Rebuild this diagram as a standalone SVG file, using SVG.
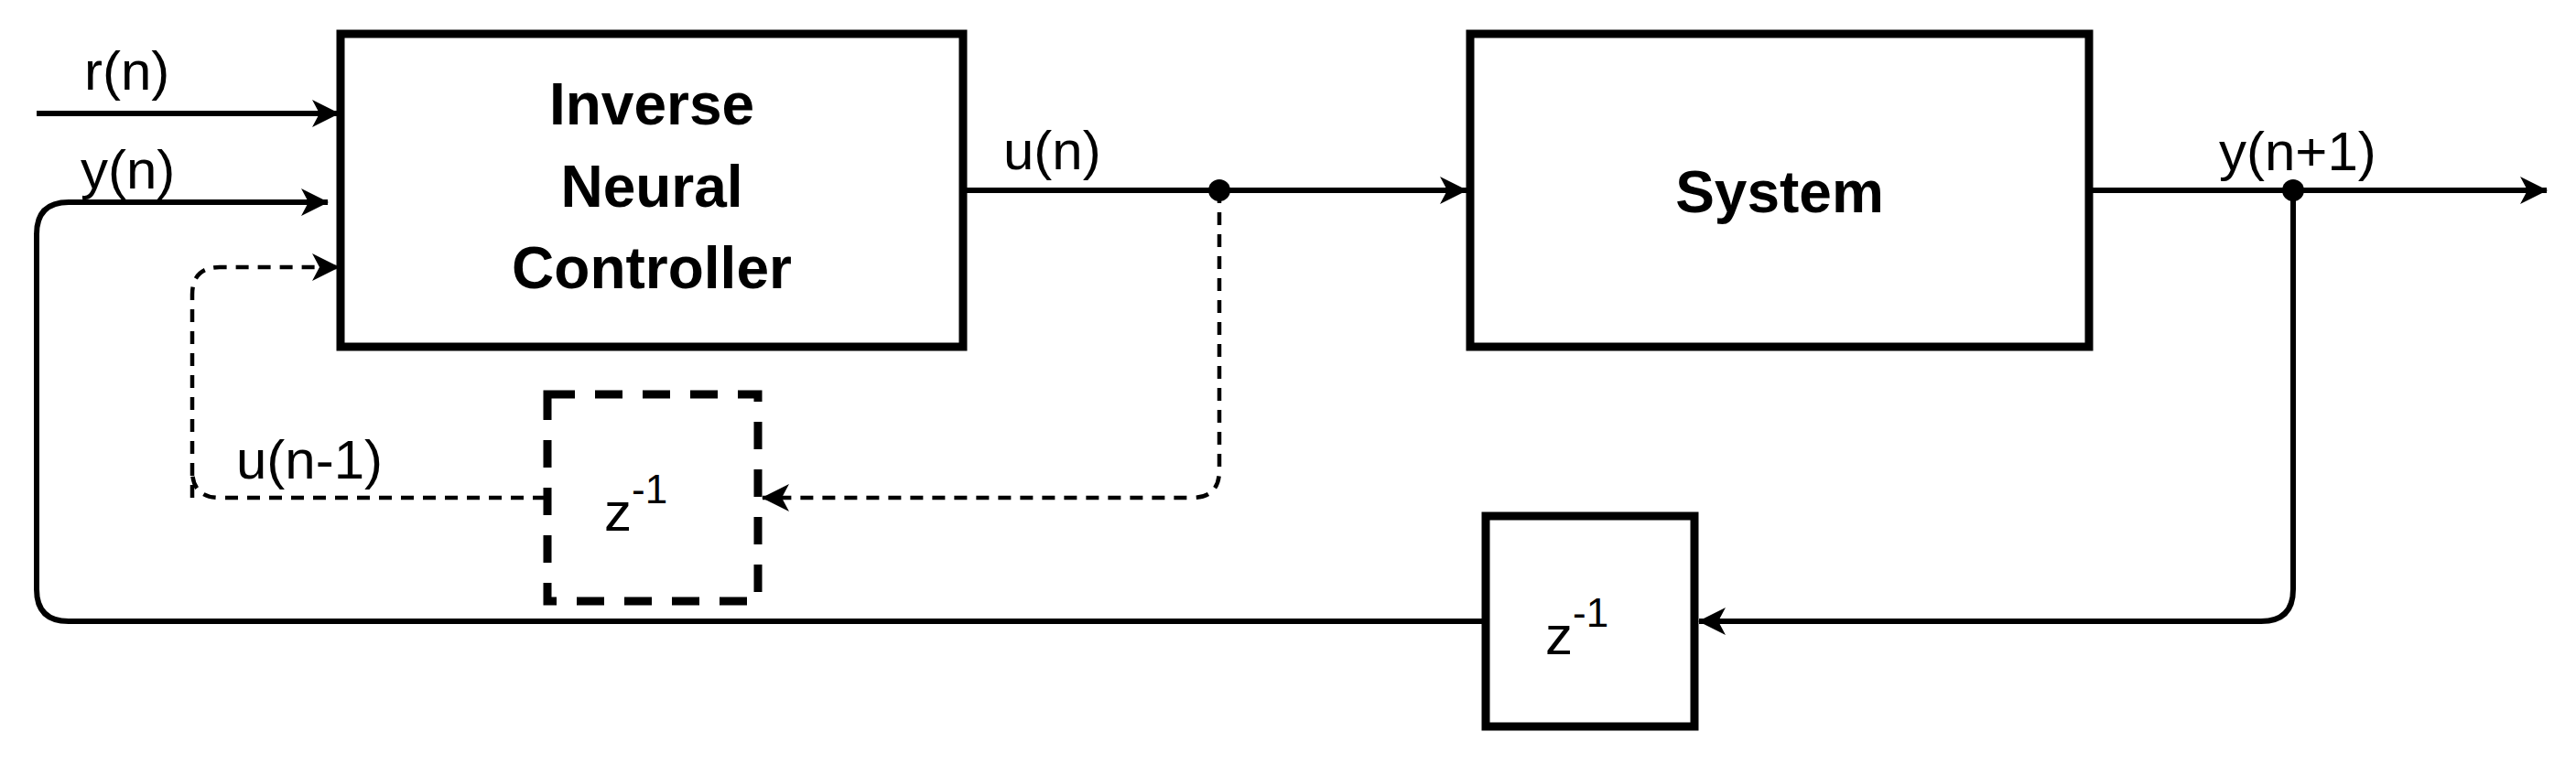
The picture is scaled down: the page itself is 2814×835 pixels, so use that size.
<svg xmlns="http://www.w3.org/2000/svg" width="2814" height="835" viewBox="0 0 2814 835">
<style>
.box{fill:#fff;stroke:#000;stroke-width:9}
.dbox{fill:none;stroke:#000;stroke-width:9;stroke-dasharray:30,22}
.ln{fill:none;stroke:#000;stroke-width:6}
.dl{fill:none;stroke:#000;stroke-width:4.5;stroke-dasharray:14,10}
.t{font-family:"Liberation Sans",Arial,sans-serif;font-size:60px;fill:#000}
.b{font-family:"Liberation Sans",Arial,sans-serif;font-size:64px;font-weight:bold;fill:#000;text-anchor:middle}
</style>
<defs>
<marker id="ar" viewBox="0 0 30 30" refX="29" refY="15" markerWidth="30" markerHeight="30" markerUnits="userSpaceOnUse" orient="auto">
<path d="M0,0 L30,15 L0,30 L8,15 Z" fill="#000"/>
</marker>
</defs>
<rect width="2814" height="835" fill="#fff"/>
<g id="connectors">
<path class="ln" d="M40,124 H370" marker-end="url(#ar)"/>
<path class="ln" d="M75,679 Q40,679 40,644 V256 Q40,221 75,221 H358" marker-end="url(#ar)"/>
<path class="dl" d="M210,544 V322 Q210,292 240,292 H370" marker-end="url(#ar)"/>
<path class="dl" d="M596,544 H240 Q210,544 210,514"/>
<path class="ln" d="M1054,208 H1602" marker-end="url(#ar)"/>
<path class="dl" d="M1332,208 V514 Q1332,544 1302,544 H833" marker-end="url(#ar)"/>
<path class="ln" d="M2284,208 H2782" marker-end="url(#ar)"/>
<path class="ln" d="M2505,208 V644 Q2505,679 2470,679 H1856" marker-end="url(#ar)"/>
<path class="ln" d="M1621,679 H75"/>
<circle cx="1332" cy="208" r="12" fill="#000"/>
<circle cx="2505" cy="208" r="12" fill="#000"/>
</g>
<g id="controller">
<rect class="box" x="372" y="37" width="680" height="342"/>
<text class="b" x="712" y="136">Inverse</text>
<text class="b" x="712" y="226">Neural</text>
<text class="b" x="712" y="315">Controller</text>
</g>
<g id="system">
<rect class="box" x="1606" y="37" width="676" height="342"/>
<text class="b" x="1944" y="232">System</text>
</g>
<g id="delay1">
<rect class="dbox" x="598" y="431" width="230" height="226"/>
<text class="t" x="660" y="580">z<tspan dy="-30" font-size="44">-1</tspan></text>
</g>
<g id="delay2">
<rect class="box" x="1623" y="564" width="228" height="230"/>
<text class="t" x="1688" y="715">z<tspan dy="-30" font-size="44">-1</tspan></text>
</g>
<g id="labels">
<text class="t" x="92" y="98">r(n)</text>
<text class="t" x="88" y="206">y(n)</text>
<text class="t" x="1096" y="185">u(n)</text>
<text class="t" x="258" y="523">u(n-1)</text>
<text class="t" x="2424" y="186">y(n+1)</text>
</g>
</svg>
